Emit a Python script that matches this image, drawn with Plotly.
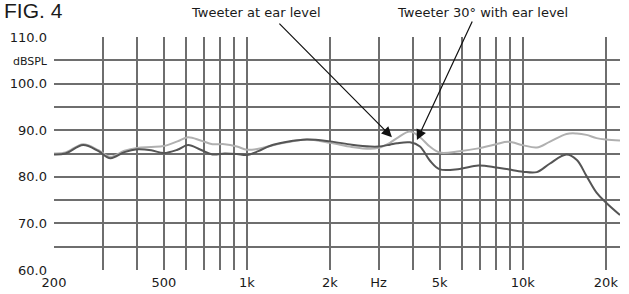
import math
import plotly.graph_objects as go

# Frequencies (Hz)
freq = [200, 220, 255, 290, 320, 360, 400, 450, 500, 560, 612, 680, 750, 830, 920,
        1000, 1100, 1210, 1400, 1650, 2000, 2400, 2800, 3000, 3300, 3500, 3900, 4240,
        4600, 5000, 5900, 6900, 8000, 8850, 10000, 11240, 12500, 14400, 15700, 17000,
        18500, 20000, 22500]

# Tweeter 30 degrees with ear level (dark)
spl_30deg = [84.8, 85.0, 86.8, 85.5, 84.0, 85.3, 85.9, 85.7, 85.1, 85.8, 86.8, 85.8, 84.8, 85.0, 84.9,
             84.7, 85.5, 86.6, 87.5, 88.0, 87.6, 86.9, 86.5, 86.5, 86.9, 87.2, 87.4, 86.5,
             83.5, 81.6, 81.7, 82.4, 82.0, 81.6, 81.1, 81.0, 82.8, 84.8, 83.6, 80.2,
             76.6, 74.5, 71.8]

# Tweeter at ear level (light)
spl_ear = [85.0, 85.2, 87.0, 85.7, 84.3, 85.6, 86.2, 86.4, 86.6, 87.6, 88.5, 87.8, 87.0, 87.0, 86.5,
           85.8, 86.0, 86.6, 87.4, 88.0, 87.3, 86.4, 86.0, 86.2, 87.3, 88.3, 89.7, 88.5,
           86.5, 85.2, 85.5, 86.1, 87.0, 87.5, 86.8, 86.3, 87.5, 89.2, 89.3, 89.0,
           88.3, 88.0, 87.8]

x_tickvals = [200, 500, 1000, 2000, 3000, 5000, 10000, 20000]
x_ticktext = ["200", "500", "1k", "2k", "Hz", "5k", "10k", "20k"]
x_grid = [300, 400, 500, 600, 700, 800, 900, 1000, 2000, 3000, 4000, 5000, 6000,
          7000, 8000, 9000, 10000, 20000]

y_tickvals = [60, 70, 80, 90, 100, 105, 110]
y_ticktext = ["60.0", "70.0", "80.0", "90.0", "100.0", "<span style='font-size:11px'>dBSPL</span>", "110.0"]
y_grid = [60, 65, 70, 75, 80, 85, 90, 95, 100, 105, 110]

GRID = "#6e6e6e"
FONT = "DejaVu Sans, Verdana, sans-serif"

fig = go.Figure()
fig.add_trace(go.Scatter(x=freq, y=spl_ear, mode="lines", line=dict(color="#b0b0b0", width=2, shape="spline"),
                         name="Tweeter at ear level"))
fig.add_trace(go.Scatter(x=freq, y=spl_30deg, mode="lines", line=dict(color="#555555", width=2, shape="spline"),
                         name="Tweeter 30° with ear level"))

fig.update_layout(
    width=629, height=294,
    margin=dict(l=54, r=9, t=37, b=24),
    paper_bgcolor="white", plot_bgcolor="white",
    showlegend=False,
    font=dict(family=FONT, size=13, color="#1a1a1a"),
)
fig.update_xaxes(
    type="log", range=[math.log10(200), math.log10(22500)],
    tickvals=x_tickvals, ticktext=x_ticktext,
    showgrid=True, gridcolor=GRID, gridwidth=2,
    minor=dict(tickvals=x_grid, showgrid=True, gridcolor=GRID, gridwidth=2, ticklen=0),
    ticks="", showline=False, zeroline=False, automargin=False,
    tickfont=dict(size=13), ticklabelstandoff=3,
)
fig.update_yaxes(
    range=[60, 110],
    tickvals=y_tickvals, ticktext=y_ticktext,
    showgrid=True, gridcolor=GRID, gridwidth=2,
    minor=dict(tickvals=y_grid, showgrid=True, gridcolor=GRID, gridwidth=2, ticklen=0),
    ticks="", showline=False, zeroline=False, automargin=False,
    tickfont=dict(size=13), ticklabelstandoff=6,
)

annos = []
annos.append(dict(text="FIG. 4", font=dict(family="Liberation Sans, Arial, sans-serif", size=21, color="#1a1a1a"),
                  xref="paper", yref="paper", x=-52/566, y=(270-11)/233,
                  xanchor="left", yanchor="middle", showarrow=False))
annos.append(dict(text="Tweeter at ear level", xref="paper", yref="paper", x=(256-54)/566, y=(270-12)/233,
                  xanchor="center", yanchor="middle", showarrow=False, font=dict(size=13)))
annos.append(dict(text="Tweeter 30° with ear level", xref="paper", yref="paper", x=(482.5-54)/566, y=(270-12)/233,
                  xanchor="center", yanchor="middle", showarrow=False, font=dict(size=13)))
annos.append(dict(text="", x=math.log10(3354), y=88.5, xref="x", yref="y", showarrow=True,
                  ax=-114, ay=-115, arrowhead=2, arrowsize=1.7, arrowwidth=1.2, arrowcolor="#111", standoff=0))
annos.append(dict(text="", x=math.log10(4133), y=87.9, xref="x", yref="y", showarrow=True,
                  ax=56, ay=-120, arrowhead=2, arrowsize=1.7, arrowwidth=1.2, arrowcolor="#111", standoff=0))
fig.update_layout(annotations=annos)

fig.write_html("out.html", config={"displayModeBar": False},
               post_script="document.body.style.margin='0';document.body.style.padding='0';")
